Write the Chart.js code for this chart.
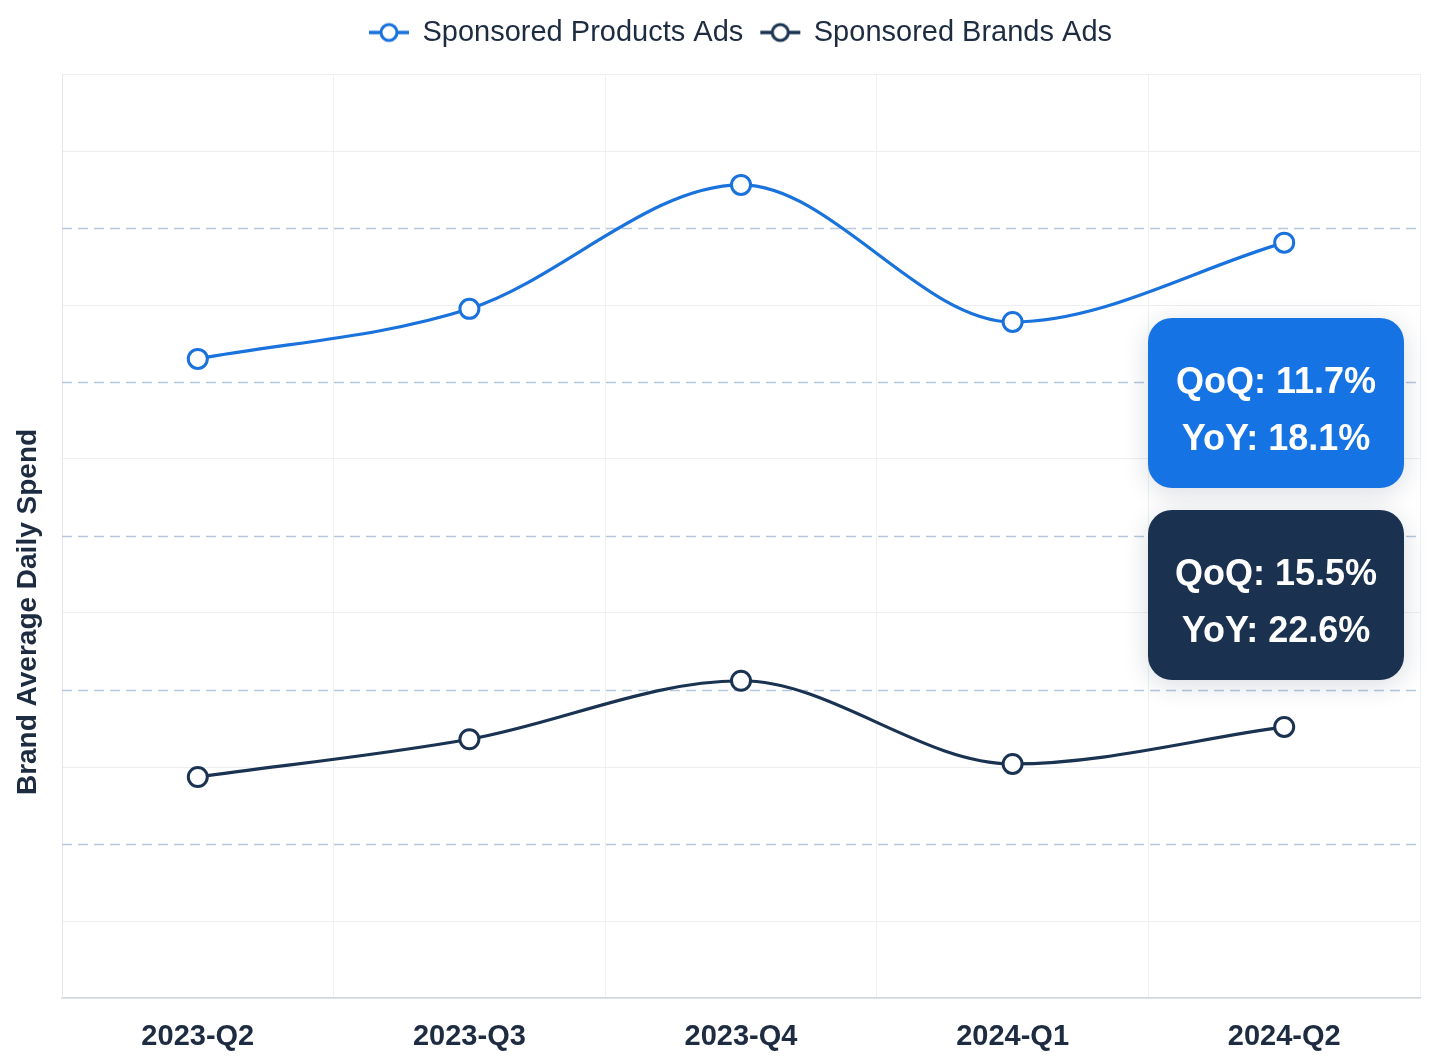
<!DOCTYPE html>
<html>
<head>
<meta charset="utf-8">
<script src="https://cdn.jsdelivr.net/npm/chart.js@4.4.1/dist/chart.umd.min.js"></script>
<style>
  html, body { margin: 0; padding: 0; background: #fff; }
  #wrap { width: 1440px; height: 1060px; }
</style>
</head>
<body>
<div id="wrap"><canvas id="chart" width="1440" height="1060"></canvas></div>
<script>
// data (arbitrary spend units, axis has no tick labels)
var quarters = ['2023-Q2', '2023-Q3', '2023-Q4', '2024-Q1', '2024-Q2'];
var productsAds = [8.30, 8.95, 10.56, 8.78, 9.81];
var brandsAds = [2.87, 3.36, 4.12, 3.04, 3.52];
var productsChange = ['QoQ: 11.7%', 'YoY: 18.1%'];
var brandsChange = ['QoQ: 15.5%', 'YoY: 22.6%'];
var yTitle = 'Brand Average Daily Spend';

var BLUE = '#1a72dc';
var NAVY = '#1b3352';
var TEXT = '#1d2c40';
var FONT = '"Liberation Sans", Arial, Helvetica, sans-serif';

Chart.defaults.font.family = FONT;

// little "-o-" icon for the legend
function legendIcon(color) {
  var c = document.createElement('canvas');
  c.width = 42; c.height = 22;
  var g = c.getContext('2d');
  g.strokeStyle = color;
  g.lineWidth = 3.5;
  g.beginPath(); g.moveTo(1, 11); g.lineTo(41, 11); g.stroke();
  g.fillStyle = '#fff';
  g.lineWidth = 3;
  g.beginPath(); g.arc(21, 11, 8, 0, Math.PI * 2); g.fill(); g.stroke();
  return c;
}
var icons = [legendIcon(BLUE), legendIcon(NAVY)];

// legend takes a fixed band above the plot
var legendBand = {
  id: 'legendBand',
  beforeInit: function (chart) {
    var lg = chart.legend;
    var fit = lg.fit;
    lg.fit = function () {
      fit.call(this);
      this.height = 74;
    };
  }
};

// dashed lines on every other y tick
var dashedGrid = {
  id: 'dashedGrid',
  beforeDatasetsDraw: function (chart) {
    var ctx = chart.ctx, y = chart.scales.y, a = chart.chartArea;
    ctx.save();
    ctx.strokeStyle = '#b5c8de';
    ctx.lineWidth = 1.3;
    ctx.setLineDash([10, 6]);
    y.ticks.forEach(function (t) {
      if (t.value % 2 === 0 && t.value > y.min && t.value < y.max) {
        var py = Math.round(y.getPixelForValue(t.value)) + 0.5;
        ctx.beginPath(); ctx.moveTo(a.left, py); ctx.lineTo(a.right, py); ctx.stroke();
      }
    });
    ctx.restore();
  }
};

// y title sits a bit below the middle in the original
var sideTitle = {
  id: 'sideTitle',
  afterDraw: function (chart) {
    var ctx = chart.ctx, a = chart.chartArea;
    ctx.save();
    ctx.translate(a.left - 34, (a.top + a.bottom) / 2 + 76);
    ctx.rotate(-Math.PI / 2);
    ctx.fillStyle = TEXT;
    ctx.font = 'bold 28px ' + FONT;
    ctx.textAlign = 'center';
    ctx.textBaseline = 'middle';
    ctx.fillText(yTitle, 0, 0);
    ctx.restore();
  }
};

// QoQ / YoY boxes on the right
function roundRect(ctx, x, y, w, h, r) {
  ctx.beginPath();
  ctx.moveTo(x + r, y);
  ctx.arcTo(x + w, y, x + w, y + h, r);
  ctx.arcTo(x + w, y + h, x, y + h, r);
  ctx.arcTo(x, y + h, x, y, r);
  ctx.arcTo(x, y, x + w, y, r);
  ctx.closePath();
}
var callouts = {
  id: 'callouts',
  afterDatasetsDraw: function (chart) {
    var ctx = chart.ctx, a = chart.chartArea;
    var w = 256, h = 170, r = 24;
    var x = a.right - 16 - w;
    var boxes = [
      { top: a.top + 244, fill: '#1673e4', lines: productsChange },
      { top: a.top + 436, fill: '#1a3250', lines: brandsChange }
    ];
    boxes.forEach(function (b) {
      ctx.save();
      ctx.shadowColor = 'rgba(20, 40, 70, 0.16)';
      ctx.shadowBlur = 26;
      ctx.shadowOffsetY = 5;
      ctx.fillStyle = b.fill;
      roundRect(ctx, x, b.top, w, h, r);
      ctx.fill();
      ctx.restore();
      ctx.save();
      ctx.fillStyle = '#fff';
      ctx.font = 'bold 36px ' + FONT;
      ctx.textAlign = 'center';
      ctx.textBaseline = 'middle';
      var cx = x + w / 2, cy = b.top + h / 2;
      ctx.fillText(b.lines[0], cx, cy - 20);
      ctx.fillText(b.lines[1], cx, cy + 37);
      ctx.restore();
    });
  }
};

new Chart(document.getElementById('chart'), {
  type: 'line',
  data: {
    labels: quarters,
    datasets: [
      {
        label: 'Sponsored Products Ads',
        data: productsAds,
        borderColor: BLUE,
        backgroundColor: '#fff',
        borderWidth: 3.2,
        pointRadius: 9.5,
        pointBorderWidth: 3,
        pointBackgroundColor: '#fff',
        pointBorderColor: BLUE,
        cubicInterpolationMode: 'monotone'
      },
      {
        label: 'Sponsored Brands Ads',
        data: brandsAds,
        borderColor: NAVY,
        backgroundColor: '#fff',
        borderWidth: 3.2,
        pointRadius: 9.5,
        pointBorderWidth: 3,
        pointBackgroundColor: '#fff',
        pointBorderColor: NAVY,
        cubicInterpolationMode: 'monotone'
      }
    ]
  },
  options: {
    responsive: false,
    animation: false,
    layout: { padding: { left: 0, right: 20, top: 0, bottom: 0 } },
    plugins: {
      tooltip: { enabled: false },
      legend: {
        position: 'top',
        fullSize: false,
        labels: {
          usePointStyle: true,
          pointStyleWidth: 38,
          boxHeight: 20,
          padding: 18,
          color: TEXT,
          font: { size: 29 },
          generateLabels: function (chart) {
            return chart.data.datasets.map(function (ds, i) {
              return {
                text: ds.label,
                datasetIndex: i,
                pointStyle: icons[i],
                fillStyle: '#fff',
                strokeStyle: ds.borderColor,
                lineWidth: 0,
                fontColor: TEXT
              };
            });
          }
        }
      }
    },
    scales: {
      x: {
        offset: true,
        grid: { offset: true, color: '#eff1f4', drawTicks: false },
        border: { color: '#d3d7dc', width: 1.5 },
        afterFit: function (s) { s.height = 62; },
        ticks: {
          color: TEXT,
          padding: 22,
          font: { size: 29, weight: 'bold' }
        }
      },
      y: {
        min: 0,
        max: 12,
        afterFit: function (s) { s.width = 62; },
        ticks: { display: false, stepSize: 1 },
        grid: {
          drawTicks: false,
          color: function (c) {
            var v = c.tick && c.tick.value;
            if (v > 0 && v < 12 && v % 2 === 0) return 'rgba(0,0,0,0)';
            return '#eceef2';
          }
        },
        border: { color: '#e6e8ec' }
      }
    }
  },
  plugins: [legendBand, dashedGrid, callouts, sideTitle]
});
</script>
</body>
</html>
